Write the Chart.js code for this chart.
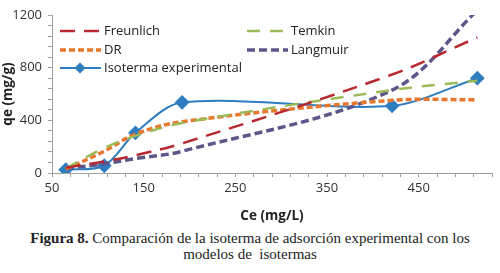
<!DOCTYPE html>
<html>
<head>
    <title>Isotermas de adsorción</title>
    <script src="https://cdn.jsdelivr.net/npm/chart.js"></script>
    <style>
        body {
            margin: 0;
            background: #ffffff;
            width: 500px;
            height: 273px;
            overflow: hidden;
        }
        .chart-box {
            position: relative;
            width: 500px;
            height: 224px;
        }
        .caption {
            font-family: "Liberation Serif", "DejaVu Serif", serif;
            font-size: 15px;
            color: #222;
            text-align: center;
            line-height: 16px;
            margin-top: 6px;
        }
    </style>
</head>
<body>
    <div class="chart-box">
        <canvas id="isoChart"></canvas>
    </div>
    <div class="caption"><b>Figura 8.</b> Comparación de la isoterma de adsorción experimental con los<br>modelos de &nbsp;isotermas</div>

    <script>
        // Ce (mg/L) of the experimental points, models evaluated at the same Ce
        const ceValues = [65, 107, 141, 192, 421, 514];
        const experimental = [25, 55, 305, 537, 510, 720];
        const freundlich = [40, 88, 135, 225, 748, 1030];
        const temkin = [36, 190, 282, 380, 630, 700];
        const dr = [30, 165, 295, 390, 552, 556];
        const langmuir = [35, 70, 110, 165, 630, 1235];

        const seriesNames = ['Freunlich', 'Temkin', 'DR', 'Langmuir', 'Isoterma experimental'];
        const xTickLabels = [50, 150, 250, 350, 450];
        const yTickLabels = [0, 400, 800, 1200];

        const fontFam = "'Open Sans', 'Liberation Sans', Arial, sans-serif";

        const toPoints = arr => arr.map((v, i) => ({ x: ceValues[i], y: v }));

        // legend drawn inside the plot in two columns, like the original
        const insideLegend = {
            id: 'insideLegend',
            afterDraw(chart) {
                const ctx = chart.ctx;
                const slots = [
                    [60, 31], [247, 31],
                    [60, 50], [247, 50],
                    [60, 68]
                ];
                ctx.save();
                ctx.font = '13px ' + fontFam;
                ctx.textBaseline = 'middle';
                chart.data.datasets.forEach((ds, k) => {
                    const [x, y] = slots[k];
                    ctx.strokeStyle = ds.borderColor;
                    ctx.lineWidth = ds.borderWidth;
                    ctx.setLineDash(ds.borderDash || []);
                    ctx.beginPath();
                    ctx.moveTo(x, y);
                    ctx.lineTo(x + 41, y);
                    ctx.stroke();
                    ctx.setLineDash([]);
                    if (ds.pointRadius > 0) {
                        ctx.fillStyle = ds.borderColor;
                        ctx.beginPath();
                        ctx.moveTo(x + 20, y - 5.5);
                        ctx.lineTo(x + 25.5, y);
                        ctx.lineTo(x + 20, y + 5.5);
                        ctx.lineTo(x + 14.5, y);
                        ctx.closePath();
                        ctx.fill();
                    }
                    ctx.fillStyle = '#222';
                    ctx.fillText(seriesNames[k], x + 44, y);
                });
                ctx.restore();
            }
        };

        const ctx = document.getElementById('isoChart').getContext('2d');

        new Chart(ctx, {
            type: 'scatter',
            data: {
                datasets: [
                    {
                        label: seriesNames[0],
                        data: toPoints(freundlich),
                        borderColor: '#b8282f',
                        borderWidth: 2.5,
                        borderDash: [15, 9],
                        showLine: true,
                        pointRadius: 0,
                        tension: 0.35
                    },
                    {
                        label: seriesNames[1],
                        data: toPoints(temkin),
                        borderColor: '#9bbb59',
                        borderWidth: 2.5,
                        borderDash: [13, 10],
                        showLine: true,
                        pointRadius: 0,
                        tension: 0.35
                    },
                    {
                        label: seriesNames[2],
                        data: toPoints(dr),
                        borderColor: '#e8772e',
                        borderWidth: 3.5,
                        borderDash: [6, 3],
                        showLine: true,
                        pointRadius: 0,
                        tension: 0.35
                    },
                    {
                        label: seriesNames[3],
                        data: toPoints(langmuir),
                        borderColor: '#5b5789',
                        borderWidth: 3.5,
                        borderDash: [8, 4],
                        showLine: true,
                        pointRadius: 0,
                        tension: 0.35
                    },
                    {
                        label: seriesNames[4],
                        data: toPoints(experimental),
                        borderColor: '#2e7dc0',
                        backgroundColor: '#2e7dc0',
                        borderWidth: 2,
                        showLine: true,
                        pointStyle: 'rectRot',
                        pointRadius: 6,
                        tension: 0.3
                    }
                ]
            },
            options: {
                responsive: true,
                maintainAspectRatio: false,
                animation: false,
                layout: {
                    padding: { left: 0, right: 3, top: 15, bottom: 0 }
                },
                plugins: {
                    legend: { display: false },
                    tooltip: { enabled: false }
                },
                scales: {
                    x: {
                        type: 'linear',
                        min: 50,
                        max: 530,
                        afterFit: s => { s.height = 51; },
                        title: {
                            display: true,
                            text: 'Ce (mg/L)',
                            color: '#222',
                            padding: { top: 2, bottom: 0 },
                            font: { size: 13.5, weight: 'bold', family: fontFam }
                        },
                        border: { color: '#a0a0a0' },
                        grid: {
                            drawOnChartArea: false,
                            drawTicks: true,
                            tickLength: 4,
                            color: '#a0a0a0'
                        },
                        ticks: {
                            stepSize: 20,
                            autoSkip: false,
                            maxRotation: 0,
                            padding: 3,
                            color: '#333',
                            font: { size: 13, family: fontFam },
                            callback: v => xTickLabels.includes(v) ? String(v) : ''
                        }
                    },
                    y: {
                        min: 0,
                        max: 1200,
                        afterFit: s => { s.width = 52; },
                        title: {
                            display: true,
                            text: 'qe (mg/g)',
                            color: '#222',
                            padding: { top: 0, bottom: 0 },
                            font: { size: 13.5, weight: 'bold', family: fontFam }
                        },
                        border: { color: '#a0a0a0' },
                        grid: {
                            drawOnChartArea: false,
                            drawTicks: true,
                            tickLength: 4,
                            color: '#a0a0a0'
                        },
                        ticks: {
                            stepSize: 80,
                            autoSkip: false,
                            padding: 6,
                            color: '#333',
                            font: { size: 13, family: fontFam },
                            callback: v => yTickLabels.includes(v) ? String(v) : ''
                        }
                    }
                }
            },
            plugins: [insideLegend]
        });
    </script>
</body>
</html>
